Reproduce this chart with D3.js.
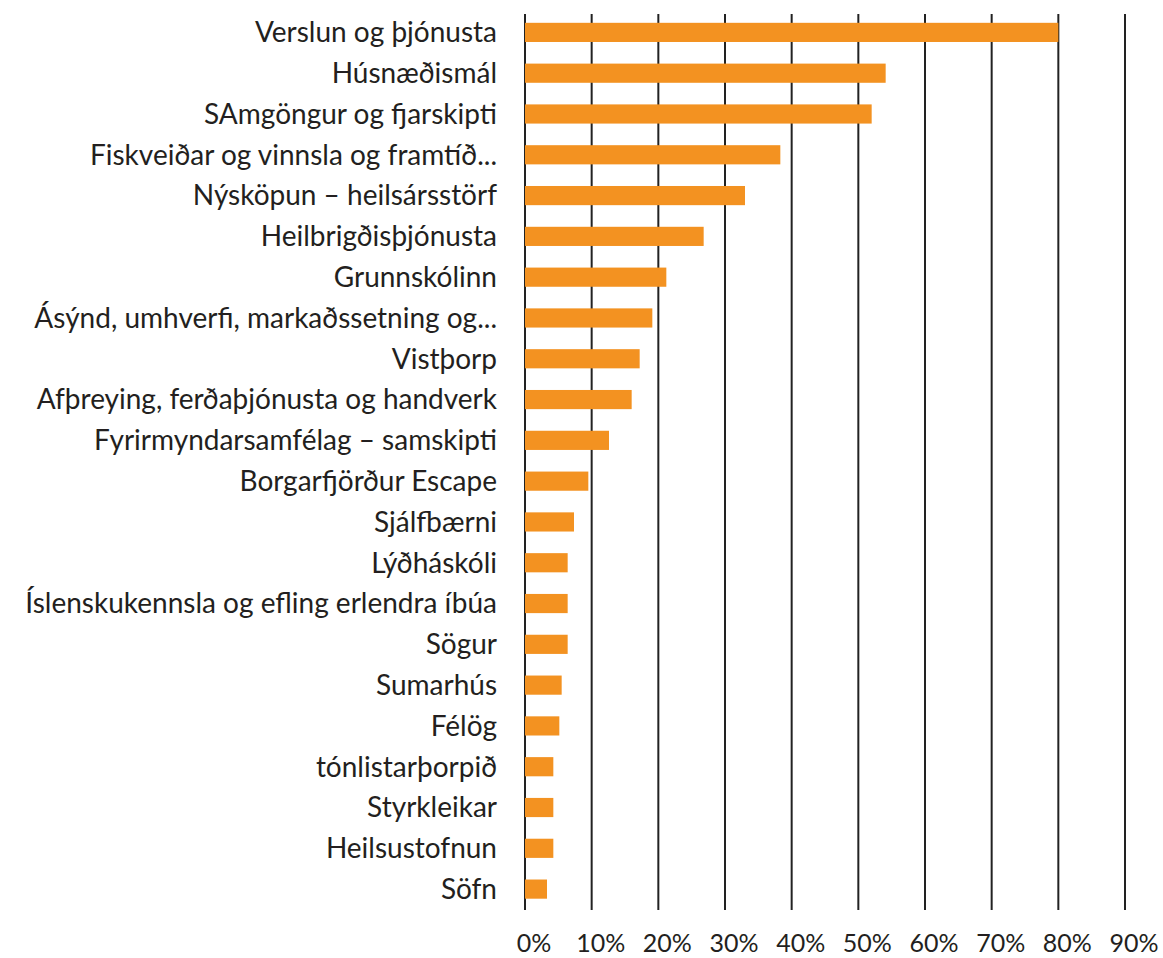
<!DOCTYPE html>
<html>
<head>
<meta charset="utf-8">
<script src="https://cdn.jsdelivr.net/npm/d3@7"></script>
<style>
  body { margin: 0; background: #fff; }
  text { font-family: Lato, "Open Sans", sans-serif; }
</style>
</head>
<body>
<div id="chart"></div>
<script>
var categories = [
  "Verslun og þjónusta",
  "Húsnæðismál",
  "SAmgöngur og fjarskipti",
  "Fiskveiðar og vinnsla og framtíð...",
  "Nýsköpun – heilsársstörf",
  "Heilbrigðisþjónusta",
  "Grunnskólinn",
  "Ásýnd, umhverfi, markaðssetning og...",
  "Vistþorp",
  "Afþreying, ferðaþjónusta og handverk",
  "Fyrirmyndarsamfélag – samskipti",
  "Borgarfjörður Escape",
  "Sjálfbærni",
  "Lýðháskóli",
  "Íslenskukennsla og efling erlendra íbúa",
  "Sögur",
  "Sumarhús",
  "Félög",
  "tónlistarþorpið",
  "Styrkleikar",
  "Heilsustofnun",
  "Söfn"
];
var values = [80, 54.1, 52, 38.3, 33, 26.8, 21.2, 19.1, 17.2, 16, 12.6, 9.5, 7.35, 6.4, 6.4, 6.4, 5.5, 5.15, 4.25, 4.25, 4.25, 3.3];
var ticks = [0, 10, 20, 30, 40, 50, 60, 70, 80, 90];

var svg = d3.select("#chart").append("svg")
    .attr("width", 1163)
    .attr("height", 958);

var x = d3.scaleLinear()
    .domain([0, 90])
    .range([525, 1125]);

var y = d3.scaleBand()
    .domain(categories)
    .range([12, 909.5])
    .paddingInner(0.53)
    .paddingOuter(0.265);

// gridlines
svg.append("g").selectAll("line")
    .data(ticks)
    .enter()
    .append("line")
    .attr("x1", d => x(d))
    .attr("x2", d => x(d))
    .attr("y1", 14)
    .attr("y2", 910)
    .attr("stroke", "#222")
    .attr("stroke-width", 2);

// bars
svg.append("g").selectAll("rect")
    .data(values)
    .enter()
    .append("rect")
    .attr("x", x(0))
    .attr("y", (d, i) => y(categories[i]))
    .attr("width", d => x(d) - x(0))
    .attr("height", y.bandwidth())
    .attr("fill", "#F39221");

// category labels
svg.append("g").selectAll("text")
    .data(categories)
    .enter()
    .append("text")
    .attr("x", 497)
    .attr("y", d => y(d) + y.bandwidth() / 2)
    .attr("dy", "0.35em")
    .style("text-anchor", "end")
    .style("font-size", "28px")
    .attr("fill", "#231f20")
    .text(d => d);

// x tick labels
svg.append("g").selectAll("text")
    .data(ticks)
    .enter()
    .append("text")
    .attr("x", d => x(d) + 9)
    .attr("y", 952)
    .style("text-anchor", "middle")
    .style("font-size", "25px")
    .attr("fill", "#231f20")
    .text(d => d + "%");
</script>
</body>
</html>
